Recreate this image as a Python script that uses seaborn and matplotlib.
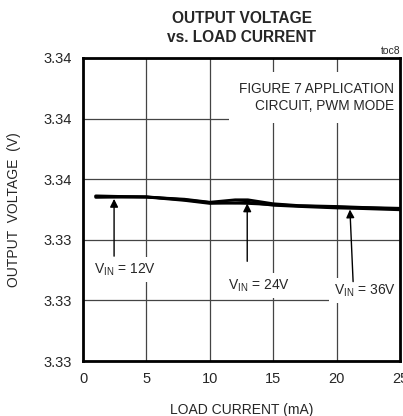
import pandas as pd
import numpy as np
import matplotlib
matplotlib.use("Agg")
import matplotlib.pyplot as plt
import seaborn as sns

sns.set_style("white")
plt.rcParams['font.family'] = ['Liberation Sans', 'DejaVu Sans']
plt.rcParams['mathtext.fontset'] = 'custom'
plt.rcParams['mathtext.rm'] = 'Liberation Sans'

# datos
corriente = [1, 3, 5, 8, 10, 12, 13, 15, 17, 20, 22, 25]
v_12 = [3.33545, 3.33543, 3.33542, 3.33532, 3.33523, 3.33521, 3.33520, 3.33516, 3.33512, 3.33508, 3.33506, 3.33502]
v_24 = [3.33543, 3.33542, 3.33541, 3.33534, 3.33524, 3.33532, 3.33532, 3.33519, 3.33513, 3.33510, 3.33507, 3.33504]
v_36 = [3.33540, 3.33541, 3.33541, 3.33530, 3.33520, 3.33522, 3.33524, 3.33514, 3.33510, 3.33505, 3.33503, 3.33499]
series = ['12V', '24V', '36V']

y_ticks = [3.330, 3.332, 3.334, 3.336, 3.338, 3.340]
x_ticks = [0, 5, 10, 15, 20, 25]

filas = []
for nombre, vals in zip(series, [v_12, v_24, v_36]):
    for c, v in zip(corriente, vals):
        filas.append({'corriente': c, 'voltaje': v, 'vin': nombre})
df = pd.DataFrame(filas)

fig = plt.figure(figsize=(4.03, 4.16), dpi=100)
ax = fig.add_axes([0.206, 0.1322, 0.7866, 0.7284])

sns.lineplot(data=df, x='corriente', y='voltaje', units='vin', estimator=None,
             color='black', linewidth=2.0, ax=ax, legend=False)

ax.set_xlim(0, 25)
ax.set_ylim(3.330, 3.340)
ax.set_xticks(x_ticks)
ax.set_yticks(y_ticks)
ax.set_xticklabels([str(t) for t in x_ticks], fontsize=10.5)
ax.set_yticklabels([f"{t:.2f}" for t in y_ticks], fontsize=10.5)
ax.tick_params(length=0, pad=8)
ax.grid(True, color='#444444', linewidth=0.9)
ax.set_axisbelow(True)
for s in ax.spines.values():
    s.set_linewidth(2)
    s.set_color('black')
    s.set_zorder(10)

ax.set_xlabel('LOAD CURRENT (mA)', fontsize=10, labelpad=12)
ax.set_ylabel('OUTPUT  VOLTAGE  (V)', fontsize=10, labelpad=16)
fig.text(0.60, 0.933, 'OUTPUT VOLTAGE\nvs. LOAD CURRENT', ha='center', va='center',
         fontsize=11.2, fontweight='bold', linespacing=1.3)
fig.text(0.995, 0.877, 'toc8', ha='right', va='center', fontsize=7.5)

caja = dict(facecolor='white', edgecolor='none', pad=3)
ax.text(24.5, 3.3387, 'FIGURE 7 APPLICATION\nCIRCUIT, PWM MODE', ha='right', va='center',
        fontsize=9.8, linespacing=1.3, bbox=dict(facecolor='white', edgecolor='none', pad=7))

flecha = dict(arrowstyle='-|>', color='black', lw=1, mutation_scale=12, shrinkA=0, shrinkB=0)
ax.text(3.3, 3.33302, r'V$_{\mathrm{IN}}$ = 12V', ha='center', va='center', fontsize=10, bbox=caja)
ax.text(13.9, 3.33249, r'V$_{\mathrm{IN}}$ = 24V', ha='center', va='center', fontsize=10, bbox=caja)
ax.text(22.2, 3.33233, r'V$_{\mathrm{IN}}$ = 36V', ha='center', va='center', fontsize=10, bbox=caja)
ax.annotate('', xy=(2.45, 3.33535), xytext=(2.45, 3.33346), arrowprops=flecha)
ax.annotate('', xy=(12.95, 3.33520), xytext=(12.95, 3.33329), arrowprops=flecha)
ax.annotate('', xy=(21.05, 3.33500), xytext=(21.3, 3.33262), arrowprops=flecha)

plt.savefig('out.png', dpi=100)
